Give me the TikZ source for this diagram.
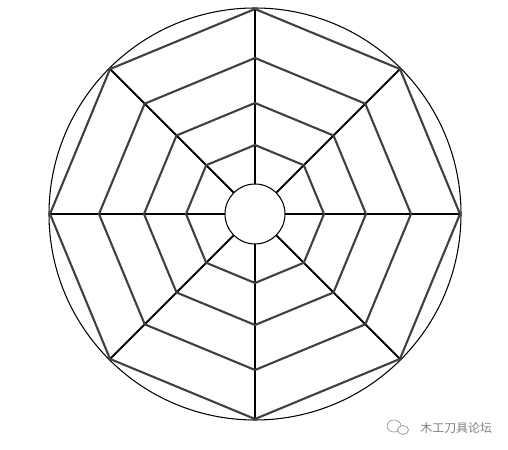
\documentclass[tikz,border=0pt]{standalone}
\usepackage{fontspec}
\newfontfamily\cjk{Noto Sans CJK SC}

\begin{document}
\begin{tikzpicture}[scale=0.02,
        rim/.style = {line width=0.6pt},
        spoke/.style = {line width=1.1pt},
        web/.style = {line width=1.2pt, black!75},
        wmtext/.style = {text=black!50, font=\cjk\fontsize{6.8}{8}\selectfont, inner sep=0pt},
        wmicon/.style = {draw=black!40, line width=0.4pt}]
    \useasboundingbox (-255,-236) rectangle (253,214);
    % outer rim and hub
    \draw[rim] (0,0) circle (206);
    \coordinate (hub) at (0,0);
    % spokes
    \foreach \a in {0,45,...,315} {
        \coordinate (in\a) at (\a:30);
        \coordinate (out\a) at (\a:206);
        \draw[spoke] (in\a) -- (out\a);
    }
    % web rings
    \foreach \r in {69,111,156,205} {
        \draw[web] (0:\r) \foreach \a in {45,90,...,315} { -- (\a:\r) } -- cycle;
    }
    \draw[rim, fill=white] (hub) circle (30);
    % watermark
    \draw[wmicon] (139,-212) ellipse (7 and 6);
    \draw[wmicon, fill=white] (148,-216) ellipse (5.5 and 4.5);
    \node[wmtext, anchor=west] (wm) at (165,-214) {木工刀具论坛};
\end{tikzpicture}
\end{document}
